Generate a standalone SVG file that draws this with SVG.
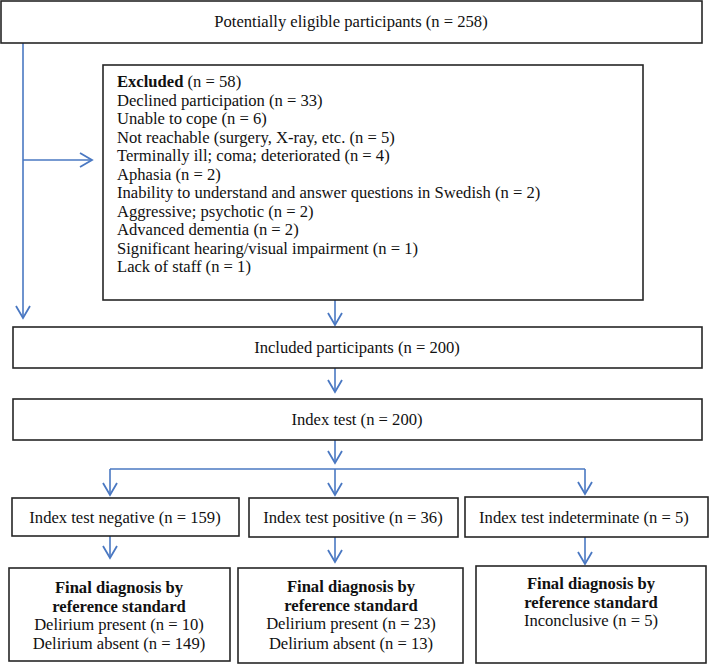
<svg xmlns="http://www.w3.org/2000/svg" width="709" height="665" viewBox="0 0 709 665">
<style>
  .box { fill: #ffffff; stroke: #262626; stroke-width: 1.6; }
  .t { font-family: "Liberation Serif", "Times New Roman", serif; font-size: 16.6px; fill: #111; }
  .c { text-anchor: middle; }
  .b { font-weight: bold; }
  .conn { fill: none; stroke: #4a78c2; stroke-width: 1.6; }
</style>
<defs>
  <marker id="arr" viewBox="-13 -8 15 16" refX="0" refY="0" markerWidth="15" markerHeight="16" markerUnits="userSpaceOnUse" orient="auto">
    <path d="M -12 -7 L 0 0 L -12 7" fill="none" stroke="#4a78c2" stroke-width="1.8"/>
  </marker>
</defs>
<rect width="709" height="665" fill="#ffffff"/>

<g id="connectors">
  <line class="conn" x1="23" y1="43" x2="23" y2="318" marker-end="url(#arr)"/>
  <line class="conn" x1="23" y1="160" x2="92" y2="160" marker-end="url(#arr)"/>
  <line class="conn" x1="335" y1="300" x2="335" y2="325" marker-end="url(#arr)"/>
  <line class="conn" x1="335" y1="368" x2="335" y2="392" marker-end="url(#arr)"/>
  <line class="conn" x1="335" y1="440" x2="335" y2="463" marker-end="url(#arr)"/>
  <line class="conn" x1="110" y1="469" x2="585" y2="469"/>
  <line class="conn" x1="110" y1="469" x2="110" y2="495" marker-end="url(#arr)"/>
  <line class="conn" x1="335" y1="469" x2="335" y2="495" marker-end="url(#arr)"/>
  <line class="conn" x1="585" y1="469" x2="585" y2="494" marker-end="url(#arr)"/>
  <line class="conn" x1="110" y1="536" x2="110" y2="558" marker-end="url(#arr)"/>
  <line class="conn" x1="335" y1="537" x2="335" y2="562" marker-end="url(#arr)"/>
  <line class="conn" x1="585" y1="537" x2="585" y2="564" marker-end="url(#arr)"/>
</g>

<g id="eligible">
  <rect class="box" x="1" y="1" width="701" height="42"/>
  <text class="t c" x="351" y="27">Potentially eligible participants (n = 258)</text>
</g>

<g id="excluded">
  <rect class="box" x="103" y="65" width="540" height="235"/>
  <text class="t" x="117" y="87"><tspan class="b">Excluded</tspan> (n = 58)</text>
  <text class="t" x="117" y="105.5">Declined participation (n = 33)</text>
  <text class="t" x="117" y="124">Unable to cope (n = 6)</text>
  <text class="t" x="117" y="142.5">Not reachable (surgery, X-ray, etc. (n = 5)</text>
  <text class="t" x="117" y="161">Terminally ill; coma; deteriorated (n = 4)</text>
  <text class="t" x="117" y="179.5">Aphasia (n = 2)</text>
  <text class="t" x="117" y="198">Inability to understand and answer questions in Swedish (n = 2)</text>
  <text class="t" x="117" y="216.5">Aggressive; psychotic (n = 2)</text>
  <text class="t" x="117" y="235">Advanced dementia (n = 2)</text>
  <text class="t" x="117" y="253.5">Significant hearing/visual impairment (n = 1)</text>
  <text class="t" x="117" y="272">Lack of staff (n = 1)</text>
</g>

<g id="included">
  <rect class="box" x="13" y="327" width="689" height="41"/>
  <text class="t c" x="357" y="353">Included participants (n = 200)</text>
</g>

<g id="index">
  <rect class="box" x="13" y="399" width="689" height="41"/>
  <text class="t c" x="357" y="425">Index test (n = 200)</text>
</g>

<g id="negative">
  <rect class="box" x="12" y="498" width="227" height="38"/>
  <text class="t c" x="125" y="523">Index test negative (n = 159)</text>
</g>

<g id="positive">
  <rect class="box" x="249" y="498" width="209" height="39"/>
  <text class="t c" x="353" y="523">Index test positive (n = 36)</text>
</g>

<g id="indeterminate">
  <rect class="box" x="465" y="497" width="243" height="40"/>
  <text class="t c" x="584" y="523">Index test indeterminate (n = 5)</text>
</g>

<g id="final-negative">
  <rect class="box" x="9" y="568" width="221" height="93"/>
  <text class="t c b" x="119" y="593">Final diagnosis by</text>
  <text class="t c b" x="119" y="612">reference standard</text>
  <text class="t c" x="119" y="630">Delirium present (n = 10)</text>
  <text class="t c" x="119" y="649">Delirium absent (n = 149)</text>
</g>

<g id="final-positive">
  <rect class="box" x="238" y="568" width="225" height="95"/>
  <text class="t c b" x="351" y="592">Final diagnosis by</text>
  <text class="t c b" x="351" y="611">reference standard</text>
  <text class="t c" x="351" y="629">Delirium present (n = 23)</text>
  <text class="t c" x="351" y="649">Delirium absent (n = 13)</text>
</g>

<g id="final-indeterminate">
  <rect class="box" x="476" y="566" width="230" height="97"/>
  <text class="t c b" x="591" y="589">Final diagnosis by</text>
  <text class="t c b" x="591" y="608">reference standard</text>
  <text class="t c" x="591" y="626">Inconclusive (n = 5)</text>
</g>
</svg>
